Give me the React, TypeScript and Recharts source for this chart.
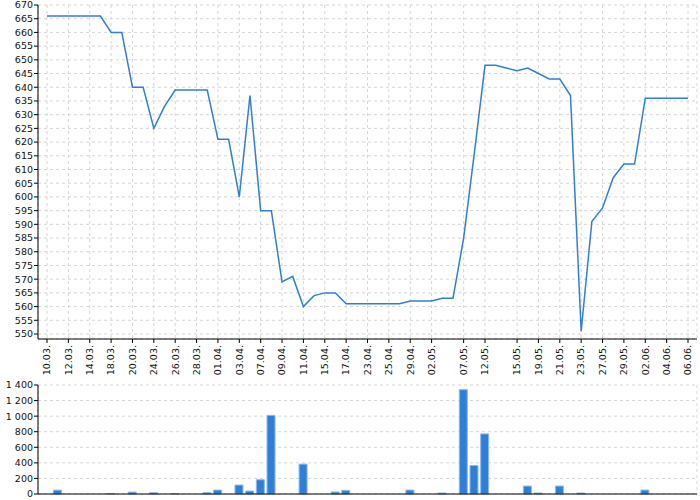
import { LineChart, Line, BarChart, Bar, XAxis, YAxis, CartesianGrid } from 'recharts'

// one entry per reading day
const dates = [
  '10.03', '11.03', '12.03', '13.03', '14.03', '16.03', '18.03', '19.03', '20.03', '22.03',
  '24.03', '25.03', '26.03', '27.03', '28.03', '30.03', '01.04', '02.04', '03.04', '05.04',
  '07.04', '08.04', '09.04', '10.04', '11.04', '13.04', '15.04', '16.04', '17.04', '20.04',
  '23.04', '24.04', '25.04', '27.04', '29.04', '30.04', '02.05', '04.05', '05.05', '07.05',
  '09.05', '12.05', '13.05', '14.05', '15.05', '17.05', '19.05', '20.05', '21.05', '22.05',
  '23.05', '25.05', '27.05', '28.05', '29.05', '31.05', '02.06', '03.06', '04.06', '05.06',
  '06.06',
]

const labeledDates = [
  '10.03', '12.03', '14.03', '18.03', '20.03', '24.03', '26.03', '28.03', '01.04', '03.04',
  '07.04', '09.04', '11.04', '15.04', '17.04', '23.04', '25.04', '29.04', '02.05', '07.05',
  '12.05', '15.05', '19.05', '21.05', '23.05', '27.05', '29.05', '02.06', '04.06', '06.06',
]

const levels = [
  666, 666, 666, 666, 666, 666, 660, 660, 640, 640,
  625, 633, 639, 639, 639, 639, 621, 621, 600, 637,
  595, 595, 569, 571, 560, 564, 565, 565, 561, 561,
  561, 561, 561, 561, 562, 562, 562, 563, 563, 585,
  616, 648, 648, 647, 646, 647, 645, 643, 643, 637,
  551, 591, 596, 607, 612, 612, 636, 636, 636, 636,
  636,
]

const volumes = [
  0, 50, 0, 0, 0, 0, 6, 0, 25, 0,
  17, 0, 6, 0, 0, 17, 51, 0, 115, 38,
  183, 1010, 0, 0, 384, 0, 0, 26, 47, 0,
  0, 0, 0, 0, 51, 0, 0, 13, 0, 1340,
  367, 772, 0, 0, 0, 102, 13, 0, 102, 0,
  13, 0, 0, 0, 0, 0, 51, 0, 0, 0,
  0,
]

const levelTicks = [
  550, 555, 560, 565, 570, 575, 580, 585, 590, 595, 600, 605, 610,
  615, 620, 625, 630, 635, 640, 645, 650, 655, 660, 665, 670,
]
const volumeTicks = [0, 200, 400, 600, 800, 1000, 1200, 1400]

const rows = dates.map((date, i) => ({ date, level: levels[i], volume: volumes[i] }))

const FONT = 'DejaVu Sans'
const BLUE = '#2f7fd8'
const GRID = '#d6d6d6'
const tickStyle = { fontSize: 9.5, fontFamily: FONT, fill: '#111' }

function DateTick({ x, y, payload }: any) {
  return (
    <text
      x={x}
      y={y}
      dy="0.35em"
      transform={`rotate(-90 ${x} ${y})`}
      textAnchor="end"
      fontSize={9.5}
      fontFamily={FONT}
      fill="#111"
    >
      {payload.value}.
    </text>
  )
}

function formatVolume(v: number) {
  if (v < 1000) return String(v)
  return `${Math.floor(v / 1000)} ${String(v % 1000).padStart(3, '0')}`
}

export default function App() {
  return (
    <div style={{ position: 'absolute', left: 0, top: 0, width: 700, height: 500, background: '#fff' }}>
      <LineChart width={700} height={375} data={rows} margin={{ top: 5, right: 3, bottom: 0, left: 0 }}>
        <CartesianGrid strokeDasharray="3 3" stroke={GRID} />
        <XAxis
          dataKey="date"
          ticks={labeledDates}
          interval={0}
          padding={{ left: 9, right: 9 }}
          height={36}
          tickSize={4}
          tickMargin={2}
          stroke="#000"
          tick={<DateTick />}
        />
        <YAxis
          width={38}
          domain={[550, 670]}
          ticks={levelTicks}
          interval={0}
          padding={{ bottom: 5 }}
          tickSize={4}
          tickMargin={1}
          stroke="#000"
          tick={tickStyle}
        />
        <Line
          type="linear"
          dataKey="level"
          stroke={BLUE}
          strokeWidth={1.5}
          dot={false}
          isAnimationActive={false}
        />
      </LineChart>

      <div style={{ position: 'absolute', left: 0, top: 380 }}>
        <BarChart width={700} height={120} data={rows} margin={{ top: 5, right: 3, bottom: 0, left: 0 }}>
          <CartesianGrid strokeDasharray="3 3" stroke={GRID} />
          <XAxis
            dataKey="date"
            ticks={labeledDates}
            interval={0}
            padding={{ left: 3.7, right: 3.7 }}
            height={6}
            tick={false}
            tickLine={false}
            stroke="#000"
          />
          <YAxis
            width={38}
            domain={[0, 1400]}
            ticks={volumeTicks}
            interval={0}
            tickSize={4}
            tickMargin={1}
            stroke="#000"
            tick={tickStyle}
            tickFormatter={formatVolume}
          />
          <Bar
            dataKey="volume"
            fill={BLUE}
            stroke="#8dbbec"
            strokeWidth={1}
            barSize={8}
            isAnimationActive={false}
          />
        </BarChart>
      </div>
    </div>
  )
}
